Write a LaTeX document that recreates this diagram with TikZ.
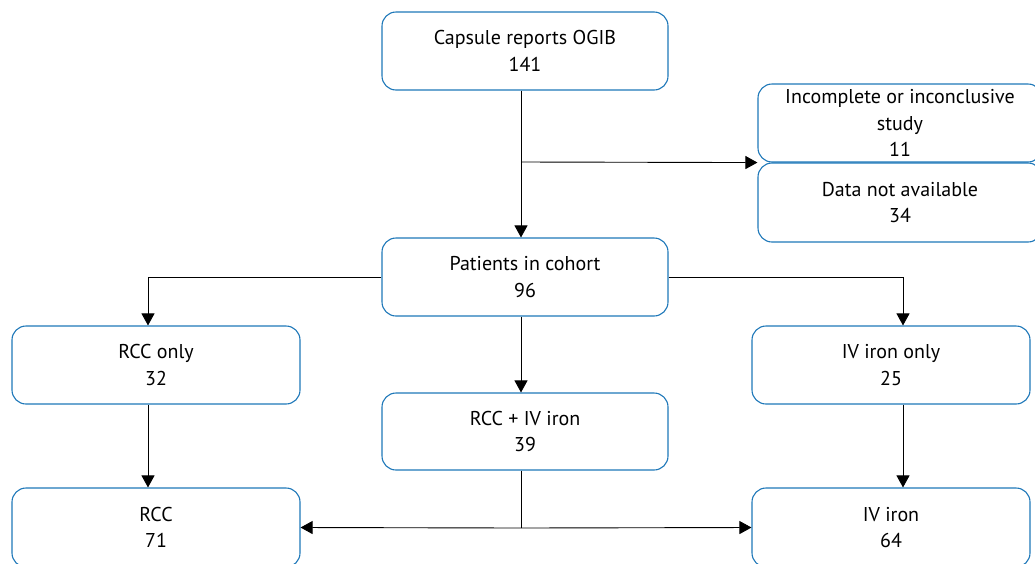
\documentclass[tikz,border=0pt]{standalone}
\usepackage{fontspec}
\setmainfont{PT Sans}
\usetikzlibrary{arrows.meta}
\definecolor{boxblue}{RGB}{30,120,185}
\tikzset{
  box/.style={draw=boxblue, line width=1.1pt, rounded corners=14pt, fill=white,
    align=center, inner sep=0pt, font=\fontsize{20}{26.5}\selectfont},
  conn/.style={draw=black, line width=0.9pt},
  arr/.style={conn, -{Triangle[length=12pt,width=13pt]}},
}
\newcommand{\mybox}[6]{% name, x1, y1, x2, y2, text
  \node[box, minimum width=#4pt-#2pt, minimum height=#5pt-#3pt] (#1) at ({(#2+#4)/2},{(#3+#5)/2}) {#6};}
\begin{document}
\begin{tikzpicture}[x=1pt,y=-1pt]
\useasboundingbox (0,0) rectangle (1035,563);
\mybox{cap}{382}{12}{668}{90}{Capsule reports OGIB\\141}
\mybox{inc}{758}{84}{1042}{162}{Incomplete or inconclusive\\study\\11}
\mybox{dna}{758}{163}{1042}{242}{Data not available\\34}
\mybox{pat}{382}{238}{668}{316}{Patients in cohort\\96}
\mybox{rcco}{12}{326}{300}{404}{RCC only\\32}
\mybox{ivo}{752}{326}{1030}{404}{IV iron only\\25}
\mybox{both}{382}{393}{668}{470}{RCC + IV iron\\39}
\mybox{rcc}{12}{488}{300}{567}{RCC\\71}
\mybox{iv}{752}{488}{1030}{567}{IV iron\\64}
\coordinate (j1) at (521,162);
\coordinate (j2) at (521,528);
\draw[arr] (cap.south -| j1) -- (pat.north -| j1);
\draw[arr] (j1) -- (inc.south west);
\draw[arr] (pat.west) -| (rcco.north -| 148,0);
\draw[arr] (pat.east) -| (ivo.north -| 903,0);
\draw[arr] (pat.south -| j1) -- (both.north -| j1);
\draw[arr] (rcco.south -| 148,0) -- (rcc.north -| 148,0);
\draw[arr] (ivo.south -| 903,0) -- (iv.north -| 903,0);
\draw[conn] (both.south -| j2) -- (j2);
\draw[arr] (j2) -- (rcc.east);
\draw[arr] (j2) -- (iv.west);
\end{tikzpicture}
\end{document}
